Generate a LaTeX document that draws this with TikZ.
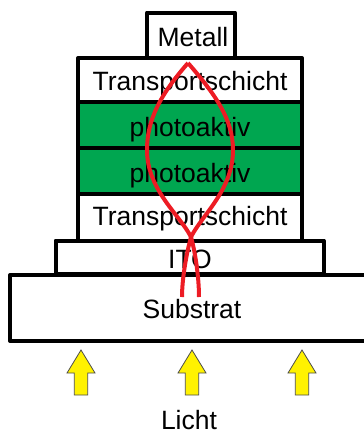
\documentclass[tikz,border=0pt]{standalone}
\usepackage{fontspec}
\setmainfont{Liberation Sans}
\definecolor{layergreen}{RGB}{0,166,80}
\definecolor{curvered}{RGB}{237,28,36}
\definecolor{lightyellow}{RGB}{255,242,0}
\begin{document}
\begin{tikzpicture}[x=1pt,y=-1pt,
  layer/.style={draw=black,line width=4pt,inner sep=0pt,minimum width=224pt,minimum height=46pt,line join=round},
  lbl/.style={inner sep=0pt,anchor=base,font=\fontsize{26.5}{30}\selectfont},
  lightarrow/.style={fill=lightyellow,draw=black!70,line width=0.8pt,line join=miter},
  path/.style={draw=curvered,line width=4pt,line cap=butt}]
\useasboundingbox (0,0) rectangle (364,434);
% substrate (open on the right, runs off the picture)
\draw[line width=4pt,line join=round] (368,275) -- (10,275) -- (10,341) -- (368,341);
% layers
\node[layer,minimum width=268pt,minimum height=33pt] (ito) at (189.5,257) {};
\node[layer,minimum height=47pt] (tb) at (190,217) {};
\node[layer,fill=layergreen] (p2) at (190,171) {};
\node[layer,fill=layergreen] (p1) at (190,125) {};
\node[layer,minimum height=44pt] (tt) at (190,80) {};
\node[layer,minimum width=88pt,minimum height=45pt] (metall) at (191,35) {};
% labels
\node[lbl] (substrat-t) at (192,318) {Substrat};
\node[lbl] (ito-t) at (190,268) {ITO};
\node[lbl] (tb-t) at (190,225.5) {Transportschicht};
\node[lbl] (p2-t) at (190,182.5) {photoaktiv};
\node[lbl] (p1-t) at (190,136.5) {photoaktiv};
\node[lbl] (tt-t) at (190,90) {Transportschicht};
\node[lbl] (metall-t) at (193,46) {Metall};
% red current paths
\coordinate (tip) at (188,63);
\coordinate (cross) at (191,237);
\coordinate (endl) at (182,297);
\coordinate (endr) at (199,297);
\draw[path] (tip) .. controls (160,95) and (147,120) .. (147,150)
  .. controls (147,190) and (180,215) .. (cross)
  .. controls (196,255) and (199,280) .. (endr);
\draw[path] (tip) .. controls (216,95) and (233,120) .. (233,150)
  .. controls (233,190) and (202,215) .. (cross)
  .. controls (186,255) and (182,280) .. (endl);
% light arrows
\foreach \n/\cx in {a/81,b/192,c/302}{
  \draw[lightarrow] (\cx,350) -- (\cx+14,373) -- (\cx+6.7,373) -- (\cx+6.7,395)
    -- (\cx-6.7,395) -- (\cx-6.7,373) -- (\cx-14,373) -- cycle;
}
\node[lbl,text depth=0pt] (licht) at (189,429) {Licht};
\end{tikzpicture}
\end{document}
